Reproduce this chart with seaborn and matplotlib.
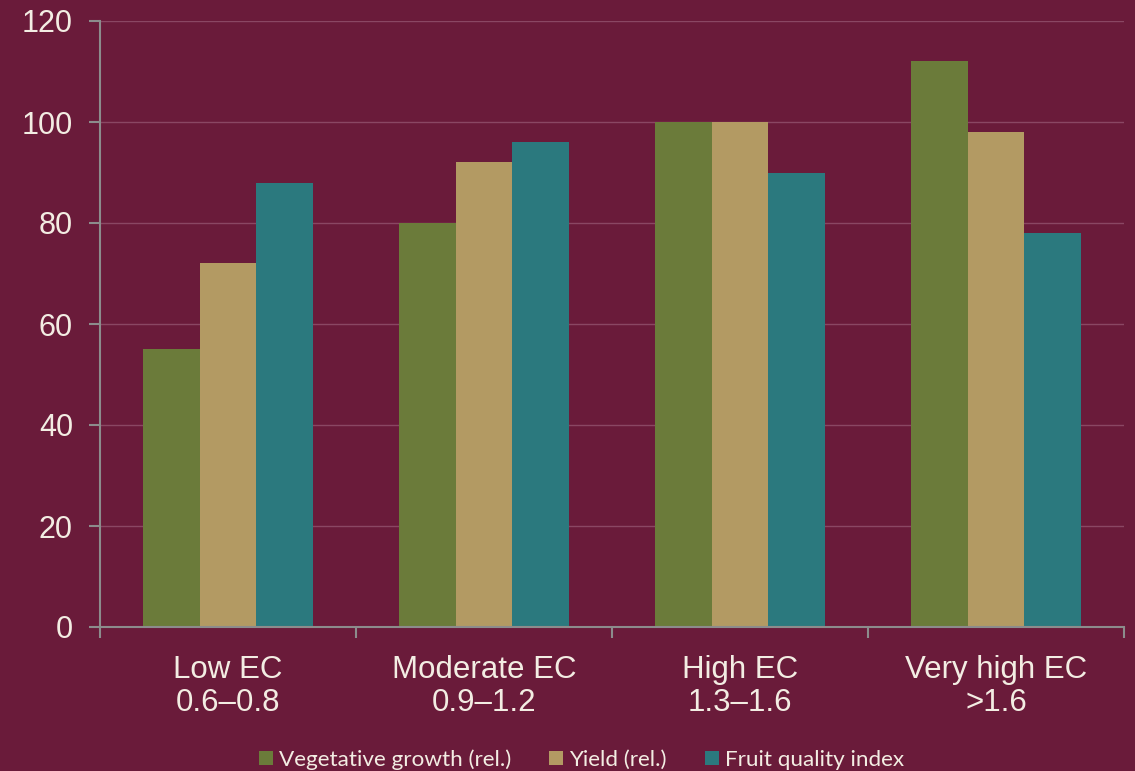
import matplotlib
matplotlib.use("Agg")
import matplotlib.pyplot as plt
import seaborn as sns
import pandas as pd
from matplotlib.patches import Patch
from matplotlib.ticker import FixedLocator

categories = ["Low EC\n0.6–0.8", "Moderate EC\n0.9–1.2", "High EC\n1.3–1.6", "Very high EC\n>1.6"]
series = ["Vegetative growth (rel.)", "Yield (rel.)", "Fruit quality index"]
vegetative = [55, 80, 100, 112]
yield_rel = [72, 92, 100, 98]
quality = [88, 96, 90, 78]
yticks = [0, 20, 40, 60, 80, 100, 120]

colors = ["#6B7B3A", "#B39A63", "#2B797E"]
bg = "#6A1B3A"
text_col = "#F3EDE3"
axis_col = "#8C8C8C"
grid_col = "#8A4763"

df = pd.DataFrame({
    "category": categories * 3,
    "series": [series[0]] * 4 + [series[1]] * 4 + [series[2]] * 4,
    "value": vegetative + yield_rel + quality,
})

sns.set_theme(style="white")
plt.rcParams["font.family"] = ["Liberation Sans", "DejaVu Sans"]

fig = plt.figure(figsize=(11.35, 7.71), dpi=100, facecolor=bg)
ax = fig.add_axes([100 / 1135, 1 - 627 / 771, 1024 / 1135, 606 / 771])
ax.set_facecolor(bg)

sns.barplot(data=df, x="category", y="value", hue="series", palette=colors,
            width=0.664, saturation=1, ax=ax, legend=False, zorder=3,
            edgecolor="none", linewidth=0)

ax.set_xlim(-0.5, 3.5)
ax.set_ylim(0, 120)
ax.set_yticks(yticks)
ax.set_xlabel("")
ax.set_ylabel("")

for y in yticks[1:]:
    ax.axhline(y, color=grid_col, lw=1.0, zorder=1)

for s in ["top", "right"]:
    ax.spines[s].set_visible(False)
for s in ["left", "bottom"]:
    ax.spines[s].set_color(axis_col)
    ax.spines[s].set_linewidth(1.5)
    ax.spines[s].set_zorder(4)

ax.tick_params(axis="y", direction="out", length=8, width=1.5, color=axis_col,
               labelcolor=text_col, labelsize=22, pad=11.5, left=True)
ax.tick_params(axis="x", which="major", length=0, labelcolor=text_col, labelsize=22.5, pad=20.5)
ax.xaxis.set_minor_locator(FixedLocator([-0.5, 0.5, 1.5, 2.5, 3.5]))
ax.tick_params(axis="x", which="minor", direction="out", length=8, width=1.5,
               color=axis_col, bottom=True)
for lbl in ax.get_xticklabels():
    lbl.set_linespacing(1.12)

handles = [Patch(facecolor=c, edgecolor="none") for c in colors]
leg = fig.legend(handles, series, loc="lower center", bbox_to_anchor=(0.5123, -0.025),
                 ncol=3, frameon=False, handlelength=0.62, handleheight=0.62,
                 handletextpad=0.27, columnspacing=1.7,
                 prop={"family": ["Lato", "DejaVu Sans"], "size": 16.2})
for t in leg.get_texts():
    t.set_color(text_col)

fig.savefig("out.png", dpi=100, facecolor=bg)
